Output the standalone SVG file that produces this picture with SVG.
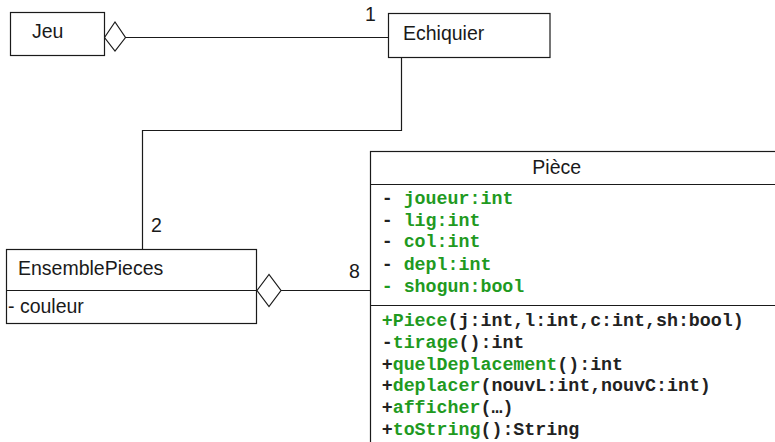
<svg xmlns="http://www.w3.org/2000/svg" width="775" height="442" viewBox="0 0 775 442">
  <style>
    .box { fill: #ffffff; stroke: #1a1a1a; stroke-width: 1.2; }
    .line { fill: none; stroke: #1a1a1a; stroke-width: 1.2; }
    .agg { fill: #ffffff; stroke: #1a1a1a; stroke-width: 1.2; }
    .label { font-family: "Liberation Sans", Arial, sans-serif; font-size: 19.5px; fill: #1a1a1a; }
    .code { font-family: "Liberation Mono", "Courier New", monospace; font-size: 18.3px; font-weight: bold; fill: #222222; }
    .g { fill: #1f9a1f; }
  </style>
  <rect x="0" y="0" width="775" height="442" fill="#ffffff"/>

  <!-- connectors -->
  <g id="connectors">
    <polygon class="agg" points="104.5,37.5 115,22 125.5,37.5 115,51"/>
    <line class="line" x1="125.5" y1="37.5" x2="388.5" y2="37.5"/>
    <text class="label" x="365" y="21">1</text>
    <polyline class="line" points="401.5,57.5 401.5,130.5 142.5,130.5 142.5,249.5"/>
    <text class="label" x="151" y="232">2</text>
    <polygon class="agg" points="257,290.5 269,274.5 281,290.5 269,306.5"/>
    <line class="line" x1="281" y1="290.5" x2="370.5" y2="290.5"/>
    <text class="label" x="349" y="278">8</text>
  </g>

  <!-- Jeu -->
  <g id="jeu">
    <rect class="box" x="10.5" y="12.5" width="94" height="43"/>
    <text class="label" x="32" y="37.5">Jeu</text>
  </g>

  <!-- Echiquier -->
  <g id="echiquier">
    <rect class="box" x="388.5" y="13.5" width="161.5" height="44"/>
    <text class="label" x="403" y="39.5">Echiquier</text>
  </g>

  <!-- EnsemblePieces -->
  <g id="ensemblePieces">
    <rect class="box" x="6.5" y="249.5" width="250" height="74"/>
    <line class="line" x1="6.5" y1="290.5" x2="256.5" y2="290.5"/>
    <text class="label" x="18" y="275">EnsemblePieces</text>
    <text class="label" x="8" y="313">- couleur</text>
  </g>

  <!-- Piece -->
  <g id="piece">
    <rect class="box" x="370.5" y="151.5" width="420" height="320"/>
    <line class="line" x1="370.5" y1="184.5" x2="790" y2="184.5"/>
    <line class="line" x1="370.5" y1="305.5" x2="790" y2="305.5"/>
    <text class="label" x="556.7" y="173.5" text-anchor="middle">Pièce</text>

    <text class="code" x="381.7" y="204">- <tspan class="g">joueur:int</tspan></text>
    <text class="code" x="381.7" y="225.7">- <tspan class="g">lig:int</tspan></text>
    <text class="code" x="381.7" y="247.4">- <tspan class="g">col:int</tspan></text>
    <text class="code" x="381.7" y="269.6">- <tspan class="g">depl:int</tspan></text>
    <text class="code g" x="381.7" y="291.5">- shogun:bool</text>

    <text class="code" x="381.7" y="326"><tspan class="g">+Piece</tspan>(j:int,l:int,c:int,sh:bool)</text>
    <text class="code" x="381.7" y="347.7">-<tspan class="g">tirage</tspan>():int</text>
    <text class="code" x="381.7" y="369.5">+<tspan class="g">quelDeplacement</tspan>():int</text>
    <text class="code" x="381.7" y="391.3">+<tspan class="g">deplacer</tspan>(nouvL:int,nouvC:int)</text>
    <text class="code" x="381.7" y="413">+<tspan class="g">afficher</tspan>(…)</text>
    <text class="code" x="381.7" y="434.8">+<tspan class="g">toString</tspan>():String</text>
  </g>
</svg>
